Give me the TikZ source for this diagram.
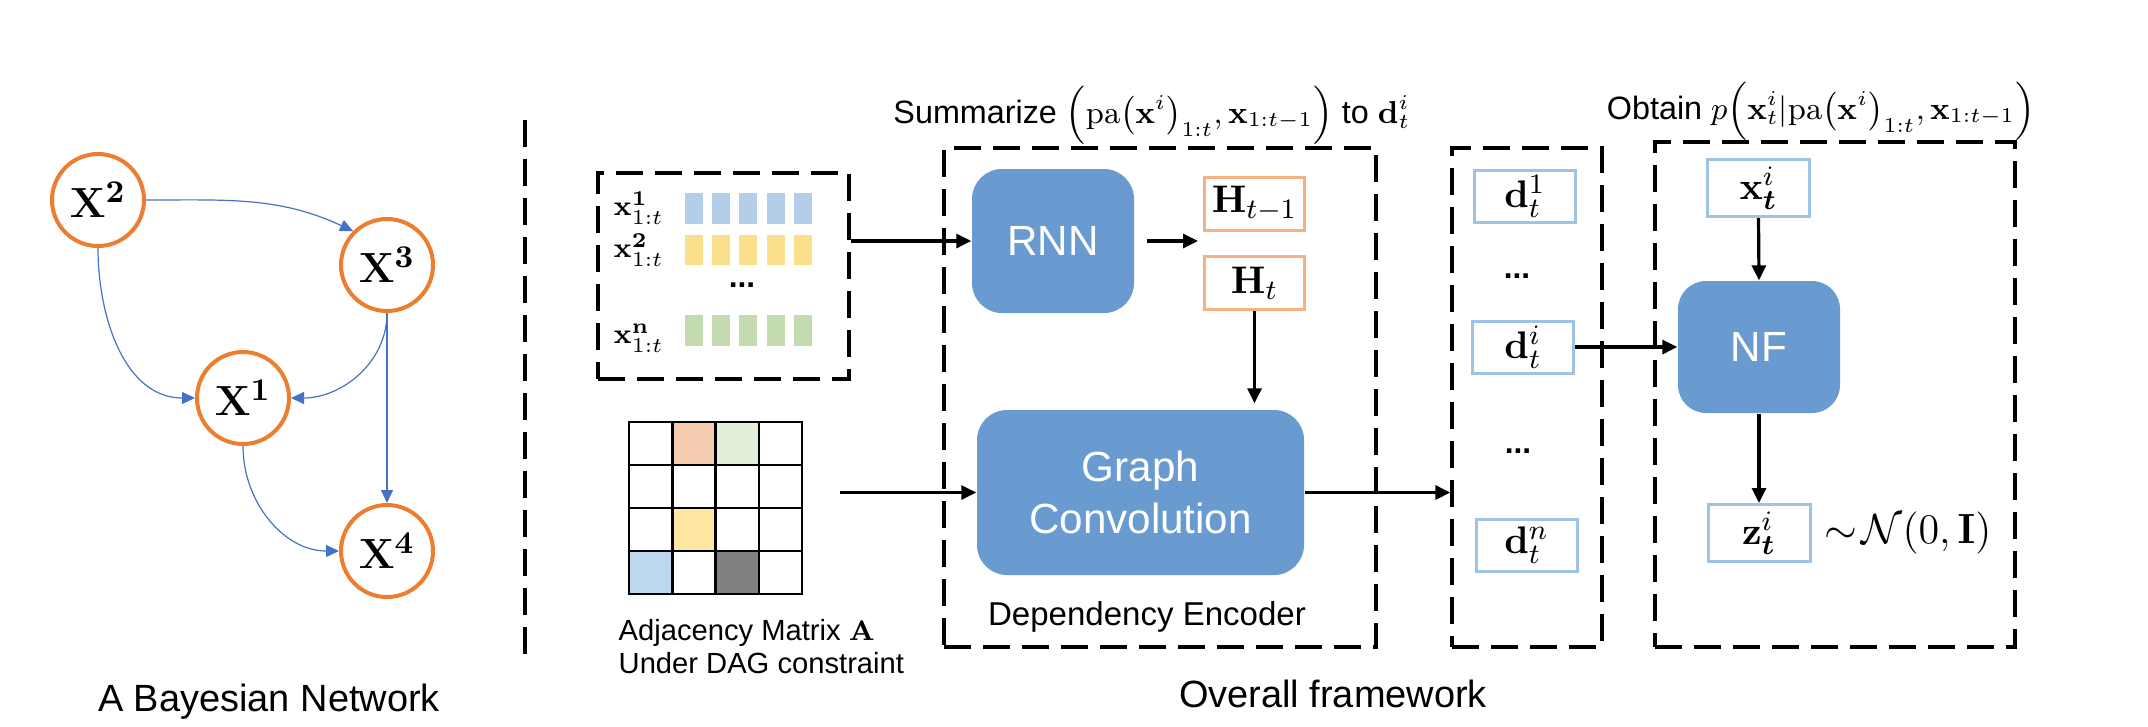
\documentclass[tikz,border=0pt]{standalone}
\usepackage{amsmath}
\usepackage{amssymb}
\usepackage[no-math]{fontspec}
\setmainfont{Liberation Sans}
\usepackage{tikz}
\usetikzlibrary{arrows.meta}

\definecolor{nodeorange}{RGB}{237,125,49}
\definecolor{edgeblue}{RGB}{68,114,196}
\definecolor{blockblue}{RGB}{106,155,208}
\definecolor{boxblue}{RGB}{157,195,230}
\definecolor{hborder}{RGB}{244,177,131}
\definecolor{barblue}{RGB}{180,205,232}
\definecolor{baryellow}{RGB}{251,224,140}
\definecolor{bargreen}{RGB}{196,219,178}
\definecolor{cellpeach}{RGB}{244,204,176}
\definecolor{cellgreen}{RGB}{226,239,218}
\definecolor{cellyellow}{RGB}{252,230,160}
\definecolor{cellblue}{RGB}{189,215,238}
\definecolor{cellgray}{RGB}{128,128,128}

\tikzset{
	bnnode/.style={circle, draw=nodeorange, line width=0.04cm, fill=white, minimum size=0.92cm, inner sep=0pt, font=\fontsize{12.5}{14}\selectfont},
	bnedge/.style={edgeblue, line width=0.012cm, -{Triangle[length=0.13cm,width=0.12cm]}},
	framebox/.style={draw, line width=0.033cm, dash pattern=on 0.27cm off 0.12cm},
	block/.style={fill=blockblue, rounded corners=0.3cm, text=white, font=\fontsize{12}{14.7}\selectfont, align=center, inner sep=0pt},
	vecbox/.style={draw=boxblue, line width=0.03cm, fill=white, inner sep=0pt, font=\fontsize{11}{13}\selectfont},
	hbox/.style={draw=hborder, line width=0.03cm, inner sep=0pt, minimum width=1.0cm, minimum height=0.53cm, font=\fontsize{11}{13}\selectfont},
	flow/.style={line width=0.032cm, -{Triangle[length=0.15cm,width=0.14cm]}},
	textlabel/.style={font=\fontsize{10.8}{13}\selectfont, inner sep=0pt},
	titlelabel/.style={font=\fontsize{9.2}{11}\selectfont, inner sep=0pt, anchor=base},
	smalllabel/.style={font=\fontsize{8.3}{10}\selectfont, inner sep=0pt},
	rowlabel/.style={font=\fontsize{8}{10}\selectfont, inner sep=0pt, anchor=west},
	dotslabel/.style={font=\fontsize{9}{11}\selectfont\bfseries, inner sep=0pt}
}

\begin{document}
\begin{tikzpicture}
	\useasboundingbox (0,0) rectangle (21.48,7.26);
	
	% Bayesian network
	\node[bnnode] (x2) at (0.98,5.26) {$\mathbf{X}^{\mathbf{2}}$};
	\node[bnnode] (x3) at (3.87,4.61) {$\mathbf{X}^{\mathbf{3}}$};
	\node[bnnode] (x1) at (2.43,3.28) {$\mathbf{X}^{\mathbf{1}}$};
	\node[bnnode] (x4) at (3.87,1.75) {$\mathbf{X}^{\mathbf{4}}$};
	
	\draw[bnedge] (x2.east) to[out=0,in=155] (x3.135);
	\draw[bnedge] (x2.south) to[out=-90,in=180] (x1.west);
	\draw[bnedge] (x3.south) to[out=-90,in=0] (x1.east);
	\draw[bnedge] (x3.south) -- (x4.north);
	\draw[bnedge] (x1.south) to[out=-90,in=180] (x4.west);
	
	\node[textlabel, anchor=base] (bntitle) at (2.69,0.15) {A Bayesian Network};
	
	\draw[framebox] (5.25,6.06) -- (5.25,0.61);
	
	% inputs
	\node[framebox, minimum width=2.51cm, minimum height=2.06cm] (inbox) at (7.235,4.50) {};
	\foreach \col in {0,...,4} {
		\fill[barblue] (6.85+0.272*\col,5.02) rectangle ++(0.18,0.31);
		\fill[baryellow] (6.85+0.272*\col,4.61) rectangle ++(0.18,0.30);
		\fill[bargreen] (6.85+0.272*\col,3.80) rectangle ++(0.18,0.31);
	}
	\node[rowlabel] (lab1) at (6.13,5.18) {$\mathbf{x}^{\mathbf{1}}_{1:t}$};
	\node[rowlabel] (lab2) at (6.13,4.76) {$\mathbf{x}^{\mathbf{2}}_{1:t}$};
	\node[dotslabel] (labdots) at (7.42,4.41) {...};
	\node[rowlabel] (labn) at (6.13,3.88) {$\mathbf{x}^{\mathbf{n}}_{1:t}$};
	
	\foreach \c/\r/\clr in {1/0/cellpeach, 2/0/cellgreen, 1/2/cellyellow, 0/3/cellblue, 2/3/cellgray}
		\fill[\clr] (6.29+0.4325*\c,3.04-0.43*\r) rectangle ++(0.4325,-0.43);
	\foreach \c in {0,...,3}
		\foreach \r in {0,...,3}
			\draw[line width=0.025cm] (6.29+0.4325*\c,3.04-0.43*\r) rectangle ++(0.4325,-0.43);
	\node[smalllabel, anchor=base west] (gridlab1) at (6.18,0.86) {Adjacency Matrix $\mathbf{A}$};
	\node[smalllabel, anchor=base west] (gridlab2) at (6.18,0.53) {Under DAG constraint};
	\coordinate (gridout) at (8.40,2.335);
	
	% dependency encoder
	\node[framebox, minimum width=4.32cm, minimum height=4.99cm] (encbox) at (11.60,3.285) {};
	\node[titlelabel] (enctitle) at (11.52,6.03) {Summarize $\Bigl(\mathrm{pa}\bigl(\mathbf{x}^{i}\bigr)_{1:t},\mathbf{x}_{1:t-1}\Bigr)$ to $\mathbf{d}_t^{i}$};
	\node[block, minimum width=1.62cm, minimum height=1.44cm] (rnn) at (10.53,4.85) {RNN};
	\node[hbox] (hprev) at (12.545,5.22) {$\mathbf{H}_{t-1}$};
	\node[hbox] (hcur) at (12.545,4.43) {$\mathbf{H}_{t}$};
	\node[block, minimum width=3.27cm, minimum height=1.65cm] (gc) at (11.405,2.335) {Graph\\Convolution};
	\node[font=\fontsize{9.4}{11}\selectfont, inner sep=0pt, anchor=base] (enclabel) at (11.47,1.01) {Dependency Encoder};
	\coordinate (rnnout) at (11.47,4.85);
	\coordinate (hgap) at (11.98,4.85);
	
	% summaries
	\node[framebox, minimum width=1.50cm, minimum height=4.99cm] (dbox) at (15.27,3.285) {};
	\node[vecbox, minimum width=1.01cm, minimum height=0.52cm] (d1) at (15.25,5.295) {$\mathbf{d}_t^{1}$};
	\node[dotslabel] (ddots1) at (15.17,4.50) {...};
	\node[vecbox, minimum width=1.01cm, minimum height=0.52cm] (di) at (15.23,3.79) {$\mathbf{d}_t^{i}$};
	\node[dotslabel] (ddots2) at (15.18,2.75) {...};
	\node[vecbox, minimum width=1.01cm, minimum height=0.52cm] (dn) at (15.265,1.81) {$\mathbf{d}_t^{n}$};
	
	% flow
	\node[framebox, minimum width=3.60cm, minimum height=5.05cm] (flowbox) at (18.35,3.315) {};
	\node[titlelabel] (flowtitle) at (18.21,6.07) {Obtain $p\Bigl(\mathbf{x}_t^{i}|\mathrm{pa}\bigl(\mathbf{x}^{i}\bigr)_{1:t},\mathbf{x}_{1:t-1}\Bigr)$};
	\node[vecbox, minimum width=1.02cm, minimum height=0.57cm] (xt) at (17.585,5.38) {$\mathbf{x}_{\boldsymbol{t}}^{i}$};
	\node[block, rounded corners=0.28cm, minimum width=1.62cm, minimum height=1.32cm] (nf) at (17.59,3.79) {NF};
	\node[vecbox, minimum width=1.02cm, minimum height=0.57cm] (zt) at (17.59,1.93) {$\mathbf{z}_{\boldsymbol{t}}^{i}$};
	\node[font=\fontsize{12}{14}\selectfont, inner sep=0pt, anchor=west] (prior) at ([xshift=0.12cm]zt.east) {$\sim\!\mathcal{N}(0,\mathbf{I})$};
	
	\node[textlabel, anchor=base] (overall) at (13.33,0.19) {Overall framework};
	
	\draw[flow] (inbox.east |- rnn.west) -- (rnn.west);
	\draw[flow] (rnnout) -- (hgap);
	\draw[flow, shorten >=0.06cm] (hcur.south) -- (hcur.south |- gc.north);
	\draw[flow] (gridout) -- (gc.west);
	\draw[flow] (gc.east) -- (gc.east -| dbox.west);
	\draw[flow] (di.east) -- (nf.west);
	\draw[flow] (xt.south) -- (nf.north);
	\draw[flow] (nf.south) -- (zt.north);
	
\end{tikzpicture}
\end{document}
